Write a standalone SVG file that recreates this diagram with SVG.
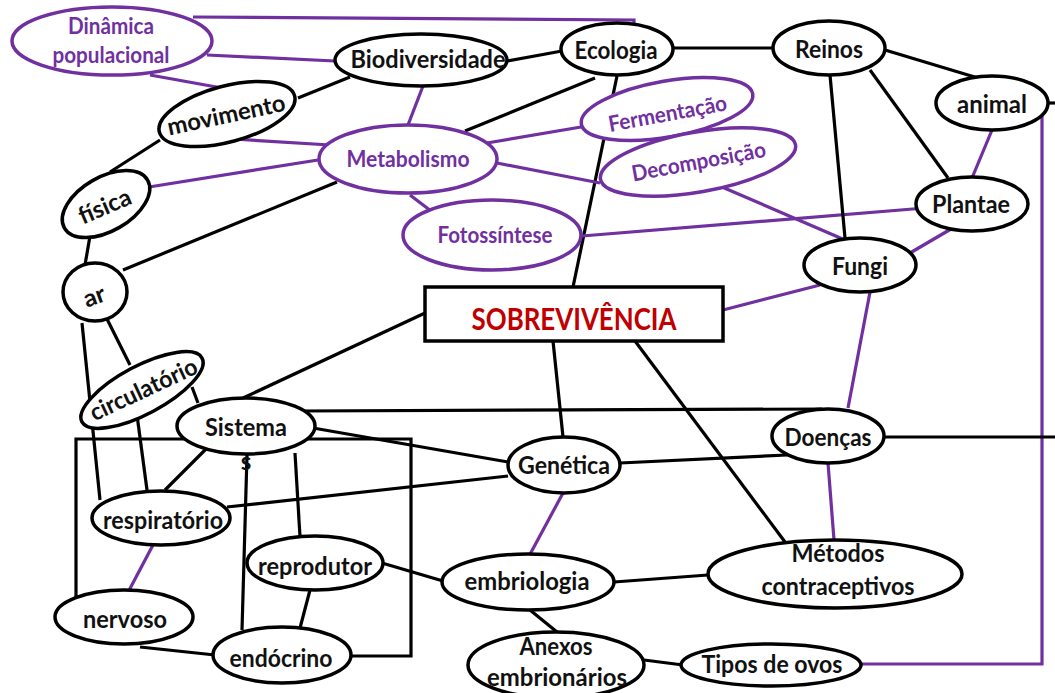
<svg xmlns="http://www.w3.org/2000/svg" width="1055" height="693" viewBox="0 0 1055 693">
<style>
.c{fill:none;stroke:#000;stroke-width:3.2}
.p{fill:none;stroke:#7030A0;stroke-width:3.2}
.nb{fill:#fff;stroke:#000;stroke-width:3.5}
.np{fill:#fff;stroke:#7030A0;stroke-width:3.5}
text{font-family:Lato,"Open Sans","Liberation Sans",sans-serif;font-weight:bold;text-anchor:middle}
.tb{fill:#111;font-size:24px}
.tp{fill:#7030A0;font-size:22px}
.tr{fill:#C00000;font-size:30px}
</style>
<rect width="1055" height="693" fill="#fff"/>
<g id="connectors">
<path class="p" d="M193,17 L634,20 L634,27"/>
<path class="p" d="M207,55 L335,61"/>
<path class="p" d="M150,75 L222,88"/>
<path class="c" d="M298,98 L350,77"/>
<path class="c" d="M507,61 L562,51"/>
<path class="p" d="M423,86 L408,125"/>
<path class="c" d="M595,78 L465,131"/>
<path class="c" d="M617,76 L573,287"/>
<path class="c" d="M673,48 L773,48"/>
<path class="c" d="M160,140 L110,172"/>
<path class="p" d="M233,139 L330,145"/>
<path class="p" d="M149,187 L318,160"/>
<path class="c" d="M90,236 L85,265"/>
<path class="c" d="M123,270 L337,182"/>
<path class="c" d="M107,319 L130,365"/>
<path class="c" d="M82,323 L100,500"/>
<path class="p" d="M487,143 L581,127"/>
<path class="p" d="M497,163 L600,183"/>
<path class="p" d="M410,195 L431,211"/>
<path class="p" d="M582,236 L925,208"/>
<path class="p" d="M722,187 L845,240"/>
<path class="c" d="M830,75 L845,238"/>
<path class="c" d="M870,70 L948,178"/>
<path class="c" d="M885,50 L978,78"/>
<path class="p" d="M992,130 L972,178"/>
<path class="p" d="M951,229 L910,253"/>
<path class="p" d="M820,285 L723,310"/>
<path class="p" d="M870,292 L848,408"/>
<path class="c" d="M1046,103 L1055,103"/>
<path class="p" d="M1042,114 V664 H860"/>
<path class="c" d="M882,437 L1055,437"/>
<path class="c" d="M300,411 L822,409"/>
<path class="c" d="M313,428 L508,462"/>
<path class="c" d="M227,507 L508,476"/>
<path class="c" d="M787,455 L620,463"/>
<path class="p" d="M828,463 L834,540"/>
<path class="c" d="M553,341 L563,437"/>
<path class="c" d="M635,341 L785,542"/>
<path class="c" d="M425,313 L243,398"/>
<path class="p" d="M563,493 L528,558"/>
<path class="c" d="M614,582 L708,575"/>
<path class="c" d="M382,563 L443,581"/>
<path class="c" d="M310,590 L300,628"/>
<path class="c" d="M530,610 L557,632"/>
<path class="c" d="M644,660 L683,665"/>
<path class="p" d="M153,545 L125,598"/>
<path class="c" d="M192,387 L198,403"/>
<path class="c" d="M137,415 L147,490"/>
<path class="c" d="M207,448 L165,490"/>
<path class="c" d="M247,455 L242,630"/>
<path class="c" d="M295,453 L300,537"/>
<path class="c" d="M140,647 L215,655"/>
<path class="c" d="M76,598 V439 H411 V656 H350"/>
</g>
<g id="dinamica"><ellipse class="np" cx="112" cy="41" rx="100" ry="34"/><text class="tp" x="111" y="34" textLength="86" lengthAdjust="spacingAndGlyphs">Dinâmica</text><text class="tp" x="111" y="63" textLength="117" lengthAdjust="spacingAndGlyphs">populacional</text></g>
<g id="biodiversidade"><ellipse class="nb" cx="421" cy="60" rx="86" ry="26"/><text class="tb" x="428" y="68" textLength="155" lengthAdjust="spacingAndGlyphs">Biodiversidade</text></g>
<g id="ecologia"><ellipse class="nb" cx="617" cy="49" rx="56" ry="26"/><text class="tb" x="616" y="59" textLength="83" lengthAdjust="spacingAndGlyphs">Ecologia</text></g>
<g id="reinos"><ellipse class="nb" cx="829" cy="48" rx="56" ry="27"/><text class="tb" x="829" y="58" textLength="68" lengthAdjust="spacingAndGlyphs">Reinos</text></g>
<g id="animal"><ellipse class="nb" cx="992" cy="103" rx="56" ry="27"/><text class="tb" x="992" y="113" textLength="70" lengthAdjust="spacingAndGlyphs">animal</text></g>
<g id="plantae"><ellipse class="nb" cx="972" cy="204" rx="56" ry="27"/><text class="tb" x="971" y="213" textLength="78" lengthAdjust="spacingAndGlyphs">Plantae</text></g>
<g id="fungi"><ellipse class="nb" cx="860" cy="265" rx="56" ry="27"/><text class="tb" x="860" y="275" textLength="56" lengthAdjust="spacingAndGlyphs">Fungi</text></g>
<g id="movimento"><ellipse class="nb" cx="227" cy="114" rx="70" ry="28" transform="rotate(-15 227 114)"/><text class="tb" x="228" y="123" textLength="120" lengthAdjust="spacingAndGlyphs" transform="rotate(-12 228 123)">movimento</text></g>
<g id="fisica"><ellipse class="nb" cx="106" cy="204" rx="48" ry="27" transform="rotate(-30 106 204)"/><text class="tb" x="108" y="214" textLength="55" lengthAdjust="spacingAndGlyphs" transform="rotate(-23 108 214)">física</text></g>
<g id="ar"><ellipse class="nb" cx="95" cy="292" rx="32" ry="29"/><text class="tb" x="97" y="304" textLength="22" lengthAdjust="spacingAndGlyphs" transform="rotate(-20 97 304)">ar</text></g>
<g id="metabolismo"><ellipse class="np" cx="408" cy="159" rx="89" ry="34"/><text class="tp" x="408" y="167" textLength="123" lengthAdjust="spacingAndGlyphs">Metabolismo</text></g>
<g id="fermentacao"><ellipse class="np" cx="667" cy="109" rx="87" ry="28" transform="rotate(-10 667 109)"/><text class="tp" x="669" y="121" textLength="120" lengthAdjust="spacingAndGlyphs" transform="rotate(-10.5 669 121)">Fermentação</text></g>
<g id="decomposicao"><ellipse class="np" cx="698" cy="162" rx="99" ry="30" transform="rotate(-10 698 162)"/><text class="tp" x="700" y="169" textLength="136" lengthAdjust="spacingAndGlyphs" transform="rotate(-10.5 700 169)">Decomposição</text></g>
<g id="fotossintese"><ellipse class="np" cx="492" cy="235" rx="89" ry="35"/><text class="tp" x="495" y="243" textLength="115" lengthAdjust="spacingAndGlyphs">Fotossíntese</text></g>
<g id="sobrevivencia"><rect x="425" y="287" width="298" height="54" fill="#fff" stroke="#000" stroke-width="3.5"/><text class="tr" x="574" y="330" textLength="205" lengthAdjust="spacingAndGlyphs">SOBREVIVÊNCIA</text></g>
<g id="circulatorio"><ellipse class="nb" cx="142" cy="390" rx="68" ry="24" transform="rotate(-28 142 390)"/><text class="tb" x="147" y="397" textLength="116" lengthAdjust="spacingAndGlyphs" transform="rotate(-25 147 397)">circulatório</text></g>
<g id="sistema"><ellipse class="nb" cx="246" cy="426" rx="69" ry="28"/><text class="tb" x="246" y="436" textLength="82" lengthAdjust="spacingAndGlyphs">Sistema</text><text class="tb" x="246" y="470" font-size="20">s</text></g>
<g id="doencas"><ellipse class="nb" cx="828" cy="436" rx="56" ry="27"/><text class="tb" x="828" y="446" textLength="87" lengthAdjust="spacingAndGlyphs">Doenças</text></g>
<g id="genetica"><ellipse class="nb" cx="564" cy="465" rx="56" ry="28"/><text class="tb" x="564" y="474" textLength="92" lengthAdjust="spacingAndGlyphs">Genética</text></g>
<g id="respiratorio"><ellipse class="nb" cx="161" cy="518" rx="69" ry="27"/><text class="tb" x="163" y="529" textLength="120" lengthAdjust="spacingAndGlyphs">respiratório</text></g>
<g id="reprodutor"><ellipse class="nb" cx="315" cy="563" rx="68" ry="27"/><text class="tb" x="315" y="575" textLength="114" lengthAdjust="spacingAndGlyphs">reprodutor</text></g>
<g id="nervoso"><ellipse class="nb" cx="124" cy="617" rx="69" ry="27"/><text class="tb" x="125" y="628" textLength="84" lengthAdjust="spacingAndGlyphs">nervoso</text></g>
<g id="endocrino"><ellipse class="nb" cx="282" cy="655" rx="69" ry="28"/><text class="tb" x="281" y="667" textLength="103" lengthAdjust="spacingAndGlyphs">endócrino</text></g>
<g id="embriologia"><ellipse class="nb" cx="528" cy="582" rx="86" ry="28"/><text class="tb" x="527" y="590" textLength="125" lengthAdjust="spacingAndGlyphs">embriologia</text></g>
<g id="anexos"><ellipse class="nb" cx="556" cy="665" rx="88" ry="33"/><text class="tb" x="556" y="655" textLength="73" lengthAdjust="spacingAndGlyphs">Anexos</text><text class="tb" x="557" y="686" textLength="140" lengthAdjust="spacingAndGlyphs">embrionários</text></g>
<g id="metodos"><ellipse class="nb" cx="835" cy="574" rx="127" ry="34"/><text class="tb" x="838" y="562" textLength="93" lengthAdjust="spacingAndGlyphs">Métodos</text><text class="tb" x="838" y="595" textLength="153" lengthAdjust="spacingAndGlyphs">contraceptivos</text></g>
<g id="tipos"><ellipse class="nb" cx="771" cy="665" rx="90" ry="21"/><text class="tb" x="772" y="673" textLength="141" lengthAdjust="spacingAndGlyphs">Tipos de ovos</text></g>
</svg>
